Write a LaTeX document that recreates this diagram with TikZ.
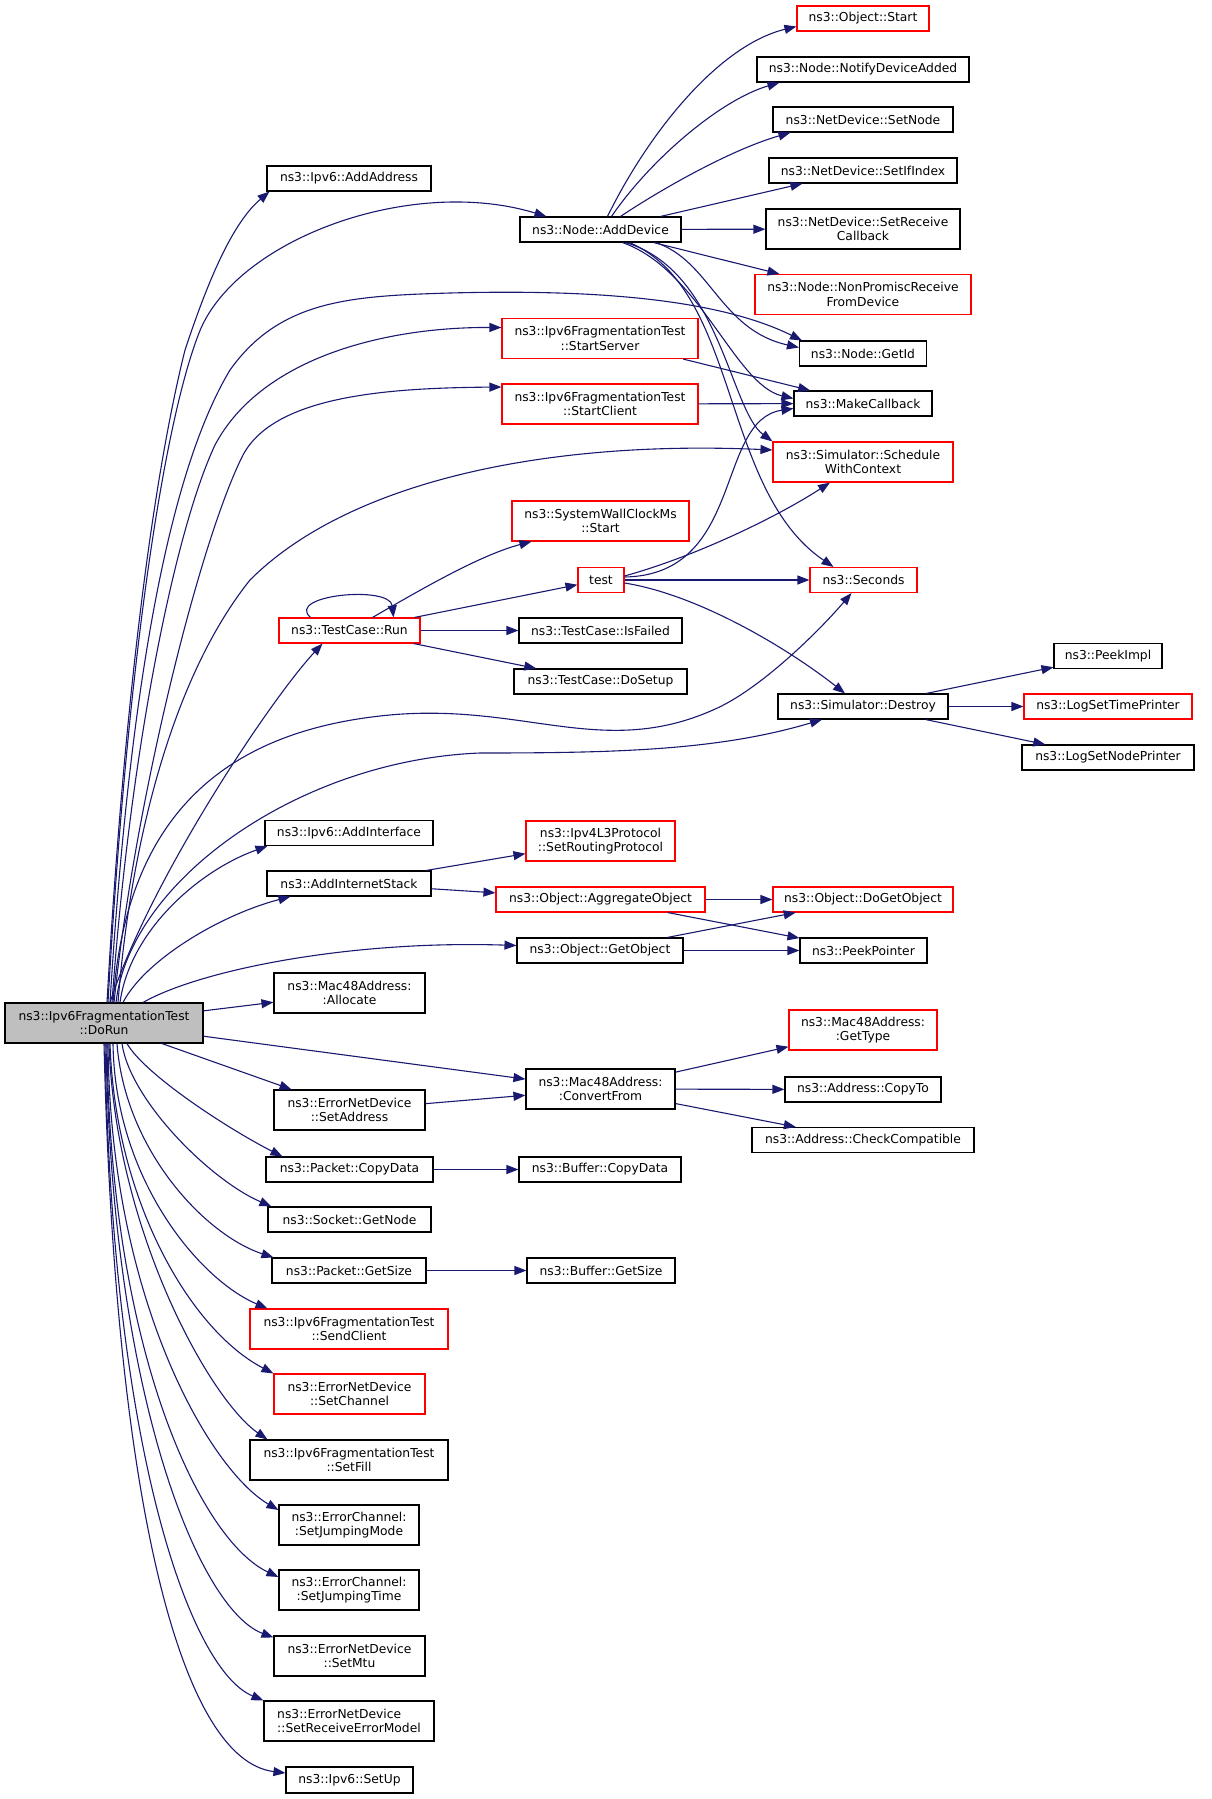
\documentclass[tikz,border=0pt]{standalone}
\usepackage{fontspec}
\usetikzlibrary{arrows.meta}
\newfontfamily\graphfont{DejaVu Sans}
\definecolor{edgeblue}{HTML}{191970}
\definecolor{rootgray}{HTML}{BFBFBF}
\definecolor{fnred}{HTML}{FF0000}

\begin{document}
\begin{tikzpicture}[x=1pt,y=-1pt,
  fn/.style={draw=black, line width=1.1pt, inner sep=0pt, minimum height=25pt, align=center,
    font=\graphfont\fontsize{12.3}{14.7}\selectfont},
  fntwo/.style={fn, minimum height=40pt},
  fnred/.style={fn, draw=fnred},
  fnredtwo/.style={fntwo, draw=fnred},
  fnroot/.style={fntwo, fill=rootgray},
  call/.style={draw=edgeblue, line width=1.1pt, -{Triangle[length=12pt,width=9pt]}}]
  \useasboundingbox (0,0) rectangle (1211,1799);

  %% root
  \node[fnroot, minimum width=198pt] (DoRun) at (104,1023) {ns3::Ipv6FragmentationTest\\::DoRun};

  %% column 1
  \node[fn, minimum width=164pt] (AddAddress) at (349,178.5) {ns3::Ipv6::AddAddress};
  \node[fnred, minimum width=141pt] (Run) at (349.5,630.5) {ns3::TestCase::Run};
  \node[fn, minimum width=168pt] (AddInterface) at (349,833) {ns3::Ipv6::AddInterface};
  \node[fn, minimum width=164pt] (AddStack) at (349,883.5) {ns3::AddInternetStack};
  \node[fntwo, minimum width=151pt] (Allocate) at (349.5,993) {ns3::Mac48Address:\\:Allocate};
  \node[fntwo, minimum width=151pt] (SetAddress) at (349.5,1110) {ns3::ErrorNetDevice\\::SetAddress};
  \node[fn, minimum width=167pt] (PktCopy) at (349.5,1169.5) {ns3::Packet::CopyData};
  \node[fn, minimum width=163pt] (SockNode) at (349.5,1219.5) {ns3::Socket::GetNode};
  \node[fn, minimum width=154pt] (PktSize) at (349,1270.5) {ns3::Packet::GetSize};
  \node[fnredtwo, minimum width=198pt] (SendClient) at (349,1329) {ns3::Ipv6FragmentationTest\\::SendClient};
  \node[fnredtwo, minimum width=151pt] (SetChannel) at (349.5,1394) {ns3::ErrorNetDevice\\::SetChannel};
  \node[fntwo, minimum width=198pt] (SetFill) at (349,1460) {ns3::Ipv6FragmentationTest\\::SetFill};
  \node[fntwo, minimum width=140pt] (JumpMode) at (349,1525) {ns3::ErrorChannel:\\:SetJumpingMode};
  \node[fntwo, minimum width=140pt] (JumpTime) at (349,1590) {ns3::ErrorChannel:\\:SetJumpingTime};
  \node[fntwo, minimum width=151pt] (SetMtu) at (349.5,1656) {ns3::ErrorNetDevice\\::SetMtu};
  \node[fntwo, minimum width=170pt, align=left] (SetErrModel) at (349,1721) {ns3::ErrorNetDevice\\::SetReceiveErrorModel};
  \node[fn, minimum width=127pt, minimum height=26pt] (SetUp) at (349.5,1780) {ns3::Ipv6::SetUp};

  %% column 2
  \node[fn, minimum width=161pt] (AddDevice) at (600.5,229.5) {ns3::Node::AddDevice};
  \node[fnredtwo, minimum width=196pt] (StartServer) at (600,338.5) {ns3::Ipv6FragmentationTest\\::StartServer};
  \node[fnredtwo, minimum width=196pt] (StartClient) at (600,404) {ns3::Ipv6FragmentationTest\\::StartClient};
  \node[fnredtwo, minimum width=177pt] (WallClock) at (600.5,521) {ns3::SystemWallClockMs\\::Start};
  \node[fnred, minimum width=46pt] (Test) at (601,580) {test};
  \node[fn, minimum width=163pt] (IsFailed) at (600.5,630.5) {ns3::TestCase::IsFailed};
  \node[fn, minimum width=173pt] (DoSetup) at (600.5,681.5) {ns3::TestCase::DoSetup};
  \node[fnredtwo, minimum width=149pt] (SetRouting) at (600.5,841) {ns3::Ipv4L3Protocol\\::SetRoutingProtocol};
  \node[fnred, minimum width=209pt] (Aggregate) at (600.5,899.5) {ns3::Object::AggregateObject};
  \node[fn, minimum width=166pt] (GetObject) at (600,950.5) {ns3::Object::GetObject};
  \node[fntwo, minimum width=149pt] (ConvertFrom) at (600.5,1089) {ns3::Mac48Address:\\:ConvertFrom};
  \node[fn, minimum width=162pt] (BufCopy) at (600,1169.5) {ns3::Buffer::CopyData};
  \node[fn, minimum width=148pt] (BufSize) at (601,1270.5) {ns3::Buffer::GetSize};

  %% column 3
  \node[fnred, minimum width=132pt] (ObjStart) at (863,18.5) {ns3::Object::Start};
  \node[fn, minimum width=212pt] (NotifyAdded) at (863,69.5) {ns3::Node::NotifyDeviceAdded};
  \node[fn, minimum width=180pt] (SetNode) at (863,119.5) {ns3::NetDevice::SetNode};
  \node[fn, minimum width=188pt] (SetIfIndex) at (863,170.5) {ns3::NetDevice::SetIfIndex};
  \node[fntwo, minimum width=194pt] (SetRecvCb) at (863,229) {ns3::NetDevice::SetReceive\\Callback};
  \node[fnredtwo, minimum width=216pt] (NonPromisc) at (863,294.5) {ns3::Node::NonPromiscReceive\\FromDevice};
  \node[fn, minimum width=127pt] (GetId) at (863,353.5) {ns3::Node::GetId};
  \node[fn, minimum width=138pt] (MakeCb) at (863,403.5) {ns3::MakeCallback};
  \node[fnredtwo, minimum width=180pt] (Schedule) at (863,462) {ns3::Simulator::Schedule\\WithContext};
  \node[fnred, minimum width=107pt] (Seconds) at (863.5,580) {ns3::Seconds};
  \node[fn, minimum width=170pt] (Destroy) at (863,706.5) {ns3::Simulator::Destroy};
  \node[fnred, minimum width=180pt] (DoGetObject) at (863,899.5) {ns3::Object::DoGetObject};
  \node[fn, minimum width=127pt] (PeekPointer) at (863.5,950.5) {ns3::PeekPointer};
  \node[fnredtwo, minimum width=148pt] (GetType) at (863,1030) {ns3::Mac48Address:\\:GetType};
  \node[fn, minimum width=156pt] (CopyTo) at (863,1089.5) {ns3::Address::CopyTo};
  \node[fn, minimum width=222pt] (CheckCompat) at (863,1140) {ns3::Address::CheckCompatible};

  %% column 4
  \node[fn, minimum width=108pt] (PeekImpl) at (1108,656) {ns3::PeekImpl};
  \node[fnred, minimum width=168pt] (TimePrinter) at (1108,706.5) {ns3::LogSetTimePrinter};
  \node[fn, minimum width=172pt] (NodePrinter) at (1108,757.5) {ns3::LogSetNodePrinter};

  %% calls out of DoRun, upwards
  \draw[call] ([xshift=3pt]DoRun.north) .. controls (127,650) and (160,450) .. (185,350)
    .. controls (205,290) and (230,225) .. ([xshift=3pt]AddAddress.south west);
  \draw[call] ([xshift=4pt]DoRun.north) .. controls (128,650) and (165,420) .. (199,333)
    .. controls (235,240) and (410,175) .. ([xshift=27pt]AddDevice.north west);
  \draw[call] ([xshift=6pt]DoRun.north) .. controls (130,680) and (170,470) .. (230,370)
    .. controls (280,300) and (350,296) .. (450,293) .. controls (600,289) and (720,300) .. ([xshift=3pt]GetId.north west);
  \draw[call] ([xshift=8pt]DoRun.north) .. controls (130,750) and (175,530) .. (215,445)
    .. controls (260,360) and (380,327) .. ([yshift=11pt]StartServer.west);
  \draw[call] ([xshift=10pt]DoRun.north) .. controls (135,800) and (200,540) .. (243,455)
    .. controls (275,395) and (390,388) .. ([yshift=17pt]StartClient.west);
  \draw[call] ([xshift=14pt]DoRun.north) .. controls (130,850) and (170,680) .. (250,580)
    .. controls (350,480) and (550,440) .. ([yshift=12pt]Schedule.west);
  \draw[call] ([xshift=6pt]DoRun.north) .. controls (150,880) and (270,700) .. ([xshift=-27pt]Run.south);
  \draw[call] ([xshift=9pt]DoRun.north) .. controls (125,830) and (210,735) .. (380,716)
    .. controls (520,700) and (600,760) .. (713,710) .. controls (760,690) and (820,630) .. ([xshift=-12pt]Seconds.south);
  \draw[call] ([xshift=12pt]DoRun.north) .. controls (130,880) and (300,760) .. (480,753)
    .. controls (620,753) and (720,750) .. ([xshift=-41pt]Destroy.south);
  \draw[call] ([xshift=16pt]DoRun.north) .. controls (130,930) and (200,870) .. ([xshift=3pt]AddInterface.south west);
  \draw[call] ([xshift=19pt]DoRun.north) .. controls (145,960) and (220,915) .. ([xshift=24pt]AddStack.south west);
  \draw[call] ([xshift=39pt]DoRun.north) .. controls (200,970) and (350,940) .. ([yshift=5pt]GetObject.west);
  \draw[call] (DoRun) -- (Allocate);
  \draw[call] (DoRun) -- (ConvertFrom);
  \draw[call] (DoRun) -- (SetAddress);

  %% calls out of DoRun, downwards
  \draw[call] ([xshift=23pt]DoRun.south) .. controls (145,1075) and (230,1130) .. ([xshift=17pt]PktCopy.north west);
  \draw[call] ([xshift=18pt]DoRun.south) .. controls (130,1100) and (210,1180) .. ([xshift=4pt]SockNode.north west);
  \draw[call] ([xshift=13pt]DoRun.south) .. controls (125,1150) and (205,1235) .. ([xshift=2pt]PktSize.north west);
  \draw[call] ([xshift=9pt]DoRun.south) .. controls (115,1180) and (200,1280) .. ([xshift=18pt]SendClient.north west);
  \draw[call] ([xshift=6pt]DoRun.south) .. controls (115,1200) and (190,1330) .. (SetChannel.north west);
  \draw[call] ([xshift=5pt]DoRun.south) .. controls (115,1230) and (210,1400) .. ([xshift=18pt]SetFill.north west);
  \draw[call] ([xshift=4pt]DoRun.south) .. controls (110,1300) and (210,1470) .. ([yshift=15pt]JumpMode.west);
  \draw[call] ([xshift=3pt]DoRun.south) .. controls (110,1350) and (200,1540) .. ([yshift=13pt]JumpTime.west);
  \draw[call] ([xshift=2pt]DoRun.south) .. controls (112,1400) and (200,1610) .. ([yshift=-2pt]SetMtu.north west);
  \draw[call] ([xshift=1pt]DoRun.south) .. controls (112,1450) and (190,1670) .. (SetErrModel.north west);
  \draw[call] (DoRun.south) .. controls (115,1500) and (180,1760) .. ([yshift=7pt]SetUp.west);

  %% AddDevice
  \draw[call] ([xshift=7pt]AddDevice.north) .. controls (650,130) and (720,45) .. ([yshift=-8pt]ObjStart.west);
  \draw[call] ([xshift=11pt]AddDevice.north) .. controls (650,160) and (720,100) .. ([xshift=23pt]NotifyAdded.south west);
  \draw[call] ([xshift=20pt]AddDevice.north) .. controls (660,190) and (730,150) .. ([xshift=18pt]SetNode.south west);
  \draw[call] ([xshift=60pt]AddDevice.north) -- ([xshift=34pt]SetIfIndex.south west);
  \draw[call] (AddDevice) -- (SetRecvCb);
  \draw[call] ([xshift=53pt]AddDevice.south) -- ([xshift=25pt]NonPromisc.north west);
  \draw[call] ([xshift=55pt]AddDevice.south) .. controls (710,260) and (720,330) .. ([yshift=6pt]GetId.west);
  \draw[call] ([xshift=22pt]AddDevice.south) .. controls (700,270) and (735,385) .. ([yshift=5pt]MakeCb.west);
  \draw[call] ([xshift=25pt]AddDevice.south) .. controls (720,270) and (730,410) .. (Schedule.north west);
  \draw[call] ([xshift=29pt]AddDevice.south) .. controls (740,290) and (720,490) .. ([xshift=-30pt]Seconds.north);

  %% StartServer, StartClient
  \draw[call] (StartServer) -- (MakeCb);
  \draw[call] (StartClient) -- (MakeCb);

  %% TestCase::Run
  \draw[call] ([xshift=-39pt]Run.north) .. controls (285,595) and (390,585) .. ([xshift=44pt]Run.north);
  \draw[call] ([xshift=23pt]Run.north) .. controls (420,590) and (480,555) .. ([xshift=20pt]WallClock.south west);
  \draw[call] (Run) -- (Test);
  \draw[call] (Run) -- (IsFailed);
  \draw[call] (Run) -- (DoSetup);

  %% test
  \draw[call] ([yshift=3pt]Test.east) .. controls (745,575) and (715,420) .. ([yshift=-5pt]MakeCb.west);
  \draw[call] ([yshift=4pt]Test.east) .. controls (700,555) and (780,515) .. ([xshift=-33pt]Schedule.south);
  \draw[call] (Test) -- (Seconds);
  \draw[call] ([yshift=-3pt]Test.east) .. controls (700,595) and (790,650) .. ([xshift=-18pt]Destroy.north);

  %% Destroy
  \draw[call] (Destroy) -- (PeekImpl);
  \draw[call] (Destroy) -- (TimePrinter);
  \draw[call] (Destroy) -- (NodePrinter);

  %% AddInternetStack, objects
  \draw[call] (AddStack) -- (SetRouting);
  \draw[call] (AddStack) -- (Aggregate);
  \draw[call] (Aggregate) -- (DoGetObject);
  \draw[call] (Aggregate) -- (PeekPointer);
  \draw[call] (GetObject) -- (DoGetObject);
  \draw[call] (GetObject) -- (PeekPointer);

  %% addresses, packets
  \draw[call] (SetAddress) -- (ConvertFrom);
  \draw[call] (ConvertFrom) -- (GetType);
  \draw[call] (ConvertFrom) -- (CopyTo);
  \draw[call] (ConvertFrom) -- (CheckCompat);
  \draw[call] (PktCopy) -- (BufCopy);
  \draw[call] (PktSize) -- (BufSize);

\end{tikzpicture}
\end{document}
